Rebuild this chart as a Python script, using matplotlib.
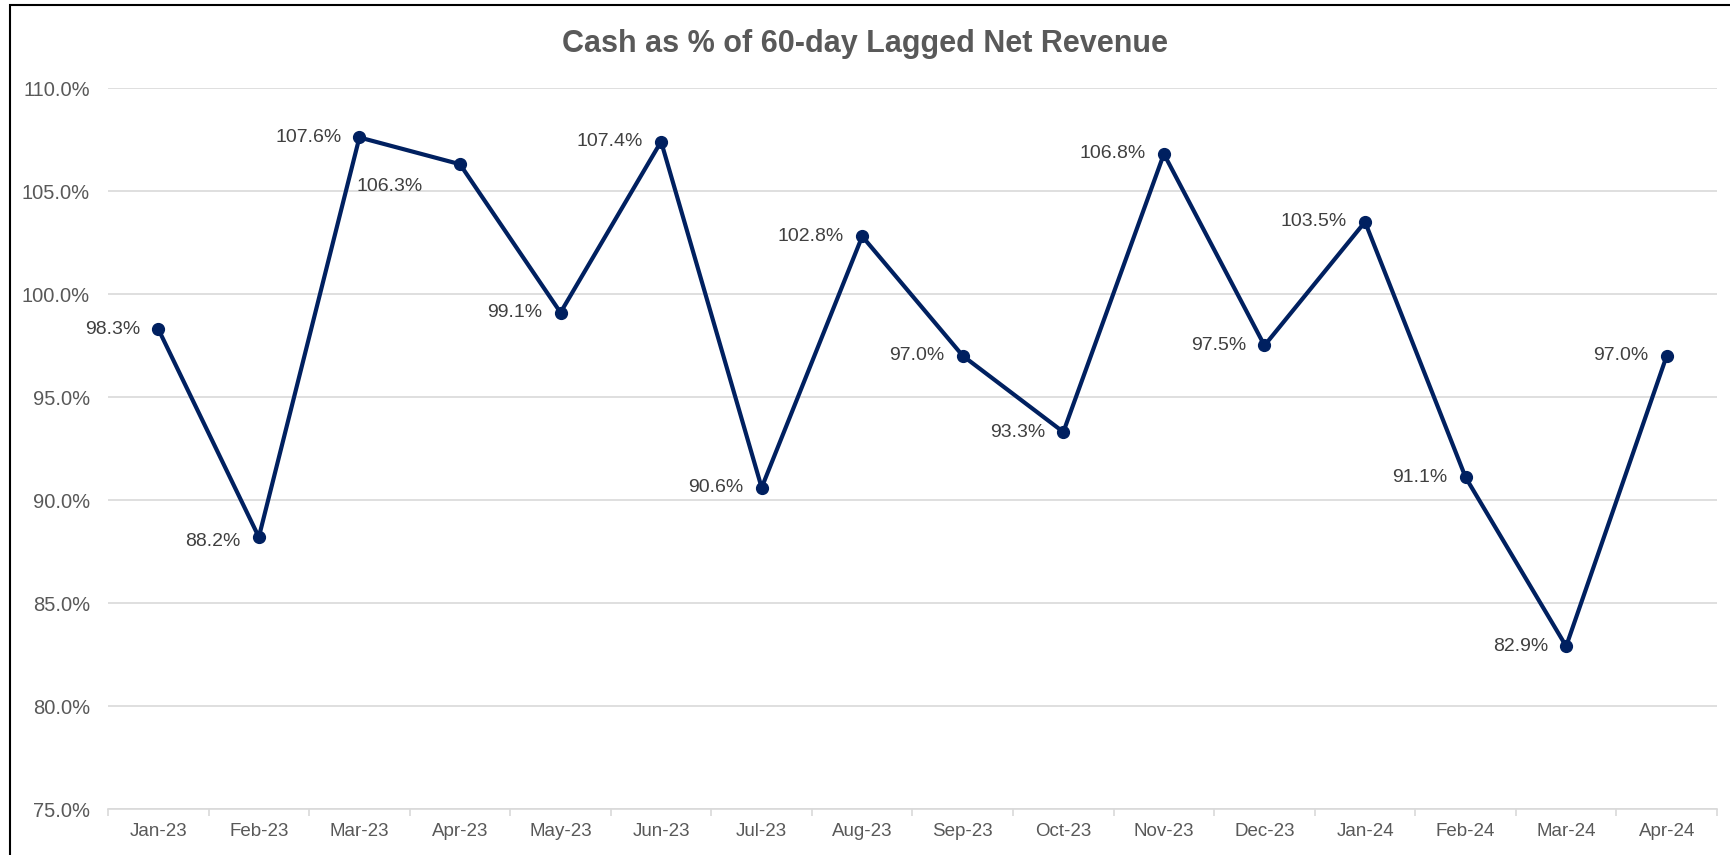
import matplotlib.pyplot as plt
from matplotlib.patches import Rectangle

plt.rcParams['font.family'] = ['Liberation Sans', 'DejaVu Sans']

# data
months = ['Jan-23', 'Feb-23', 'Mar-23', 'Apr-23', 'May-23', 'Jun-23', 'Jul-23', 'Aug-23',
          'Sep-23', 'Oct-23', 'Nov-23', 'Dec-23', 'Jan-24', 'Feb-24', 'Mar-24', 'Apr-24']
cash_pct = [98.3, 88.2, 107.6, 106.3, 99.1, 107.4, 90.6, 102.8,
            97.0, 93.3, 106.8, 97.5, 103.5, 91.1, 82.9, 97.0]
y_ticks = [75, 80, 85, 90, 95, 100, 105, 110]

navy = '#002060'
grey = '#595959'

fig = plt.figure(figsize=(17.31, 8.55), dpi=100)
ax = fig.add_axes([108 / 1731, 1 - 809 / 855, (1717 - 108) / 1731, (809 - 88) / 855])

x = list(range(len(months)))
ax.plot(x, cash_pct, color=navy, lw=3, marker='o', ms=8.5, zorder=3)

# data labels, left of each point (106.3 sits below-left in the original)
for i, v in enumerate(cash_pct):
    if i == 3:
        off = (-27, -16)
    elif i == 1:
        off = (-13, -3)
    else:
        off = (-13, 0)
    ax.annotate(f'{v:.1f}%', (i, v), xytext=off, textcoords='offset points',
                ha='right', va='center', fontsize=14, color='#404040')

ax.set_xlim(-0.5, len(months) - 0.5)
ax.set_ylim(75, 110)
ax.set_yticks(y_ticks)
ax.set_yticklabels([f'{t:.1f}%' for t in y_ticks])
ax.set_xticks(x)
ax.set_xticklabels(months)
ax.set_xticks([i - 0.5 for i in range(len(months) + 1)], minor=True)

ax.grid(axis='y', color='#D9D9D9', lw=1.2)
ax.set_axisbelow(True)
for s in ['top', 'right', 'left']:
    ax.spines[s].set_visible(False)
ax.spines['bottom'].set_color('#D9D9D9')
ax.spines['bottom'].set_linewidth(1.2)

ax.tick_params(axis='y', length=0, pad=13, labelsize=14.5, labelcolor=grey)
ax.tick_params(axis='x', which='major', length=0, pad=10, labelsize=13.5, labelcolor=grey)
ax.tick_params(axis='x', which='minor', length=5, width=1.2, color='#D9D9D9')

fig.text(0.5, 1 - 44 / 855, 'Cash as % of 60-day Lagged Net Revenue', ha='center', va='center',
         fontsize=22, fontweight='bold', color=grey)

# chart frame (only left and top edges are visible in the crop)
fig.patches.append(Rectangle((10 / 1731, -0.1), 1.2, 1 - 5 / 855 + 0.1, transform=fig.transFigure,
                             fill=False, edgecolor='black', lw=1.5))

fig.savefig('out.png', dpi=100)
